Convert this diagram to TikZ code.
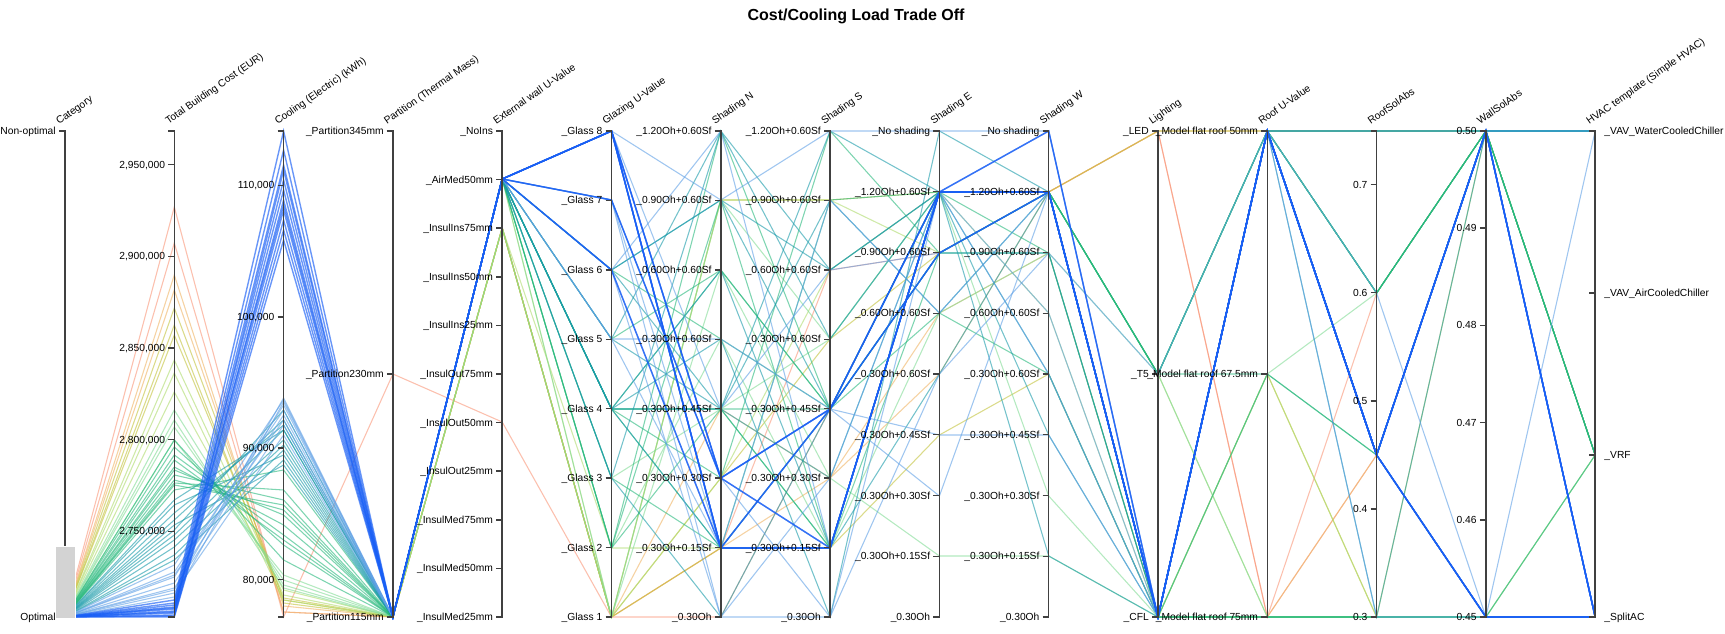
\documentclass[tikz,border=0pt]{standalone}
\usepackage{fontspec}
\setmainfont{Liberation Sans}
\definecolor{c1}{RGB}{250,150,120}
\definecolor{c2}{RGB}{240,180,100}
\definecolor{c3}{RGB}{195,195,60}
\definecolor{c4}{RGB}{175,220,110}
\definecolor{c5}{RGB}{130,220,150}
\definecolor{c6}{RGB}{40,185,125}
\definecolor{c7}{RGB}{25,155,170}
\definecolor{c8}{RGB}{95,160,230}
\definecolor{c9}{RGB}{25,95,245}
\definecolor{brushgray}{RGB}{211,211,211}
\tikzset{
  ln/.style={line width=0.8pt, opacity=0.6},
  bl/.style={c9, line width=1.05pt, opacity=0.65},
  ax/.style={draw=black!75, line width=1.1pt},
  ticklab/.style={font=\fontsize{7.7}{9}\selectfont, anchor=base east, inner sep=0pt},
  ticklabr/.style={font=\fontsize{7.7}{9}\selectfont, anchor=base west, inner sep=0pt},
  axtitle/.style={font=\fontsize{7.7}{9}\selectfont, anchor=base west, rotate=35, inner sep=0pt},
}
\newcommand\pl[2]{\draw[ln,#1] (65,617) \foreach \yy [count=\i] in {#2} { -- ({65+109.3*\i},\yy) };}
\newcommand\axtick[3]{\draw[ax] ({65+109.3*#1-6},#2) -- ({65+109.3*#1},#2); \node[ticklab] at ({65+109.3*#1-9},{#2+3.5}) {#3};}
\newcommand\axtickr[3]{\draw[ax] ({65+109.3*#1-6},#2) -- ({65+109.3*#1},#2); \node[ticklabr] at ({65+109.3*#1+9},{#2+3.5}) {#3};}
\begin{document}
\begin{tikzpicture}[x=0.75pt,y=-0.75pt]
\fill[white] (0,0) rectangle (1725,634);
\useasboundingbox (0,0) rectangle (1725,634);
% title
\node[font=\fontsize{12}{14}\selectfont\bfseries, anchor=base, inner sep=0pt] (title) at (856,21) {Cost/Cooling Load Trade Off};
% data lines
\pl{c1}{207,617,374,422,617,548,270,253,192,131,617,293,131,455}
\pl{c1}{243,612,617,228,617,617,409,192,192,131,617,455,131,131}
\pl{c2}{275,612,617,228,617,548,478,313,253,617,617,455,617,617}
\pl{c2}{290,606,617,228,617,409,478,374,192,131,131,131,131,131}
\pl{c3}{308,600,617,228,617,200,200,192,192,131,131,131,131,131}
\pl{c3}{325,603,617,228,617,478,339,253,192,617,374,617,131,455}
\pl{c3}{335,598,617,228,617,548,548,435,374,617,617,617,617,617}
\pl{c4}{360,595,617,228,548,548,409,192,192,374,617,617,617,455}
\pl{c4}{373,600,617,228,617,200,200,253,192,617,374,617,617,617}
\pl{c4}{392,590,617,179,617,478,270,192,313,617,617,617,617,617}
\pl{c5}{410,585,617,179,548,339,548,313,253,374,617,617,617,455}
\pl{c5}{427,580,617,179,478,409,339,192,192,617,374,293,131,455}
\pl{c5}{440,575,617,179,617,270,478,556,556,617,617,617,617,617}
\pl{c5}{420,588,617,228,617,200,339,192,496,617,617,617,617,617}
\pl{c6}{440,560,617,179,409,409,409,192,192,374,131,293,131,455}
\pl{c6}{447,545,617,179,409,548,200,192,192,374,131,293,131,455}
\pl{c6}{455,535,617,179,339,270,409,253,192,374,374,455,131,455}
\pl{c6}{460,540,617,179,409,270,409,253,192,374,131,293,131,455}
\pl{c6}{467,525,617,179,548,409,548,192,253,617,617,617,617,617}
\pl{c6}{470,515,617,179,409,478,131,253,192,374,131,293,131,455}
\pl{c6}{475,500,617,179,270,339,409,192,192,374,131,293,131,455}
\pl{c6}{480,510,617,179,478,548,409,313,374,617,617,617,617,617}
\pl{c6}{483,490,617,179,409,409,548,192,192,617,374,455,617,455}
\pl{c6}{485,505,617,179,548,200,548,253,253,617,617,617,617,617}
\pl{c6}{490,470,617,179,548,131,409,253,192,374,131,293,131,455}
\pl{c7}{500,430,617,179,409,409,478,192,192,617,131,455,131,131}
\pl{c7}{505,455,617,179,339,131,270,192,192,617,131,131,131,131}
\pl{c7}{513,425,617,179,270,200,409,253,253,617,131,455,131,131}
\pl{c7}{520,420,617,179,409,548,548,192,192,617,131,131,131,131}
\pl{c7}{525,465,617,179,478,617,409,192,556,617,131,455,131,131}
\pl{c7}{530,410,617,179,339,409,200,313,192,617,131,455,131,131}
\pl{c7}{535,430,617,179,409,339,617,131,192,617,131,455,131,131}
\pl{c7}{540,440,617,179,270,200,270,192,192,617,131,131,131,131}
\pl{c7}{547,445,617,179,270,409,131,192,374,617,131,617,131,131}
\pl{c7}{555,450,617,179,409,270,548,374,192,617,131,455,131,131}
\pl{c7}{560,460,617,179,478,131,339,192,435,617,131,455,131,131}
\pl{c8}{565,400,617,179,270,617,617,192,192,617,131,455,131,131}
\pl{c8}{572,410,617,179,200,478,617,374,253,374,131,455,617,617}
\pl{c8}{575,420,617,179,200,617,478,192,374,617,131,455,131,617}
\pl{c8}{577,405,617,179,131,200,131,131,131,617,131,617,617,131}
\pl{c8}{583,415,617,179,339,339,409,496,192,617,131,455,617,617}
\pl{c8}{588,425,617,179,270,131,548,192,313,617,131,293,617,617}
\pl{c8}{590,398,617,179,339,548,200,313,192,617,131,455,617,617}
\pl{c8}{593,435,617,179,200,548,409,435,435,617,131,455,617,617}
\pl{c8}{597,402,617,179,131,409,270,253,192,617,131,455,131,617}
\pl{bl}{600,131,617,179,131,548,548,192,192,617,131,455,131,617}
\pl{bl}{603,150,617,179,131,548,548,192,192,617,131,455,131,617}
\pl{bl}{605,165,617,179,131,548,548,192,192,617,131,455,131,617}
\pl{bl}{607,180,617,179,131,548,548,192,192,617,131,455,131,617}
\pl{bl}{608,205,617,179,131,548,548,192,192,617,131,455,131,617}
\pl{bl}{609,190,617,179,131,478,409,192,192,617,131,455,617,617}
\pl{bl}{611,200,617,179,131,478,409,192,192,617,131,455,617,617}
\pl{bl}{612,170,617,179,131,478,409,192,192,617,131,455,617,617}
\pl{bl}{613,210,617,179,270,548,409,253,192,617,131,455,131,617}
\pl{bl}{615,220,617,179,270,548,409,253,192,617,131,455,131,617}
\pl{bl}{616,230,617,179,200,478,548,192,131,617,131,455,617,617}
\pl{bl}{617,240,617,179,200,478,548,192,131,617,131,455,617,617}
% axes
\foreach \k in {0,...,14} {
  \draw[ax] ({65+109.3*\k-6},131) -- ({65+109.3*\k},131) -- ({65+109.3*\k},617) -- ({65+109.3*\k-6},617);
}
% brush
\draw[fill=brushgray, draw=white, line width=0.75pt] (55,546) rectangle (75,618);
% axis titles
\foreach \k/\t in {0/Category, 1/Total Building Cost (EUR), 2/Cooling (Electric) (kWh), 3/Partition (Thermal Mass), 4/External wall U-Value, 5/Glazing U-Value, 6/Shading N, 7/Shading S, 8/Shading E, 9/Shading W, 10/Lighting, 11/Roof U-Value, 12/RoofSolAbs, 13/WallSolAbs, 14/HVAC template (Simple HVAC)} {
  \node[axtitle] at ({65+109.3*\k-6},125) {\t};
}
% ticks
\node[ticklab] at (56,134.5) {Non-optimal};
\node[ticklab] at (56,620.5) {Optimal};
\axtick{1}{164.6}{2,950,000}
\axtick{1}{256.3}{2,900,000}
\axtick{1}{348.0}{2,850,000}
\axtick{1}{439.7}{2,800,000}
\axtick{1}{531.4}{2,750,000}
\axtick{2}{185.3}{110,000}
\axtick{2}{316.8}{100,000}
\axtick{2}{448.2}{90,000}
\axtick{2}{579.5}{80,000}
\axtick{3}{131}{\_Partition345mm}
\axtick{3}{374}{\_Partition230mm}
\axtick{3}{617}{\_Partition115mm}
\foreach \j/\t in {0/NoIns,1/AirMed50mm,2/InsulIns75mm,3/InsulIns50mm,4/InsulIns25mm,5/InsulOut75mm,6/InsulOut50mm,7/InsulOut25mm,8/InsulMed75mm,9/InsulMed50mm,10/InsulMed25mm} {
  \axtick{4}{131+48.6*\j}{\_\t}
}
\foreach \j/\t in {0/8,1/7,2/6,3/5,4/4,5/3,6/2,7/1} {
  \axtick{5}{131+69.43*\j}{\_Glass \t}
}
\foreach \a in {6,7} {
  \foreach \j/\t in {0/1.20Oh+0.60Sf,1/0.90Oh+0.60Sf,2/0.60Oh+0.60Sf,3/0.30Oh+0.60Sf,4/0.30Oh+0.45Sf,5/0.30Oh+0.30Sf,6/0.30Oh+0.15Sf,7/0.30Oh} {
    \axtick{\a}{131+69.43*\j}{\_\t}
  }
}
\foreach \a in {8,9} {
  \foreach \j/\t in {0/No shading,1/1.20Oh+0.60Sf,2/0.90Oh+0.60Sf,3/0.60Oh+0.60Sf,4/0.30Oh+0.60Sf,5/0.30Oh+0.45Sf,6/0.30Oh+0.30Sf,7/0.30Oh+0.15Sf,8/0.30Oh} {
    \axtick{\a}{131+60.75*\j}{\_\t}
  }
}
\axtick{10}{131}{\_LED}
\axtick{10}{374}{\_T5}
\axtick{10}{617}{\_CFL}
\axtick{11}{131}{\_Model flat roof 50mm}
\axtick{11}{374}{\_Model flat roof 67.5mm}
\axtick{11}{617}{\_Model flat roof 75mm}
\axtick{12}{184.6}{0.7}
\axtick{12}{292.7}{0.6}
\axtick{12}{400.8}{0.5}
\axtick{12}{508.9}{0.4}
\axtick{12}{617}{0.3}
\axtick{13}{131}{0.50}
\axtick{13}{228.2}{0.49}
\axtick{13}{325.4}{0.48}
\axtick{13}{422.6}{0.47}
\axtick{13}{519.8}{0.46}
\axtick{13}{617}{0.45}
\axtickr{14}{131}{\_VAV\_WaterCooledChiller}
\axtickr{14}{293}{\_VAV\_AirCooledChiller}
\axtickr{14}{455}{\_VRF}
\axtickr{14}{617}{\_SplitAC}
\end{tikzpicture}
\end{document}
